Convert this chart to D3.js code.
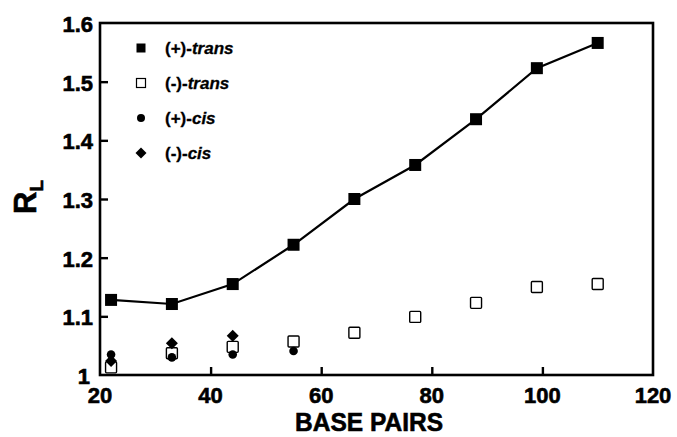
<!DOCTYPE html>
<html>
<head>
<meta charset="utf-8">
<script src="https://cdn.jsdelivr.net/npm/d3@7"></script>
<style>
  html, body { margin: 0; padding: 0; background: #fff; }
  svg { display: block; }
  text { font-family: "Liberation Sans", Arial, sans-serif; font-weight: bold; fill: #000; }
  text.heavy { stroke: #000; stroke-width: 0.6px; }
</style>
</head>
<body>
<svg id="chart" width="677" height="437"></svg>
<script>
// ---- data ----
const basePairs = [22, 33, 44, 55, 66, 77, 88, 99, 110];
const plusTrans  = [1.128, 1.121, 1.155, 1.222, 1.300, 1.358, 1.436, 1.523, 1.566];
const minusTrans = [1.013, 1.037, 1.048, 1.057, 1.072, 1.099, 1.123, 1.150, 1.155];
const cisBasePairs = [22, 33, 44, 55];
const plusCis  = [1.035, 1.030, 1.035, 1.041];
const minusCisBasePairs = [22, 33, 44];
const minusCis = [1.024, 1.054, 1.067];
const xTicks = [20, 40, 60, 80, 100, 120];
const yTicks = [1, 1.1, 1.2, 1.3, 1.4, 1.5, 1.6];
const yTickLabels = ["1", "1.1", "1.2", "1.3", "1.4", "1.5", "1.6"];
const legendLabels = [["(+)-", "trans"], ["(-)-", "trans"], ["(+)-", "cis"], ["(-)-", "cis"]];

// ---- layout ----
const svg = d3.select("#chart");
const L = 100, R = 653, T = 23, B = 375;
const x = d3.scaleLinear().domain([20, 120]).range([L, R]);
const y = d3.scaleLinear().domain([1, 1.6]).range([B, T]);

// frame
svg.append("rect").attr("x", L).attr("y", T).attr("width", R - L).attr("height", B - T)
  .attr("fill", "none").attr("stroke", "#000").attr("stroke-width", 2.6);

// inward ticks via d3 axes
const xAxis = svg.append("g").attr("transform", `translate(0,${B})`)
  .call(d3.axisBottom(x).tickValues(xTicks.slice(1, -1)).tickSize(-8).tickFormat(""));
const yAxis = svg.append("g").attr("transform", `translate(${L},0)`)
  .call(d3.axisLeft(y).tickValues(yTicks.slice(1, -1)).tickSize(-8).tickFormat(""));
[xAxis, yAxis].forEach(g => {
  g.select(".domain").remove();
  g.selectAll(".tick line").attr("stroke", "#000").attr("stroke-width", 2.4);
});

// tick labels
svg.append("g").selectAll("text").data(xTicks).join("text").attr("class", "heavy")
  .attr("x", d => x(d)).attr("y", 403).attr("text-anchor", "middle")
  .attr("font-size", 22).text(d => d);
svg.append("g").selectAll("text").data(yTicks).join("text").attr("class", "heavy")
  .attr("x", (d, i) => i === 0 ? 90 : 93).attr("y", d => y(d) + 9)
  .attr("text-anchor", "end").attr("font-size", 22).text((d, i) => yTickLabels[i]);

// axis titles
svg.append("text").attr("class", "heavy").attr("x", 369).attr("y", 431).attr("text-anchor", "middle")
  .attr("font-size", 26).attr("textLength", 148).attr("lengthAdjust", "spacingAndGlyphs")
  .text("BASE PAIRS");
const yt = svg.append("text").attr("class", "heavy").attr("transform", "translate(36,214) rotate(-90)")
  .attr("font-size", 31);
yt.append("tspan").text("R");
yt.append("tspan").attr("font-size", 19).attr("dy", 7).text("L");

// line for (+)-trans
const line = d3.line().x((d, i) => x(basePairs[i])).y(d => y(d));
svg.append("path").datum(plusTrans).attr("d", line)
  .attr("fill", "none").attr("stroke", "#000").attr("stroke-width", 2.2);

// (-)-trans open squares
const os = 11;
svg.append("g").selectAll("rect").data(minusTrans).join("rect")
  .attr("x", (d, i) => x(basePairs[i]) - os / 2).attr("y", d => y(d) - os / 2)
  .attr("width", os).attr("height", os).attr("rx", 1)
  .attr("fill", "#fff").attr("stroke", "#000").attr("stroke-width", 1.4);

// (-)-cis diamonds
const diamond = (cx, cy, r) => `M${cx},${cy - r}L${cx + r},${cy}L${cx},${cy + r}L${cx - r},${cy}Z`;
svg.append("g").selectAll("path").data(minusCis).join("path")
  .attr("d", (d, i) => diamond(x(minusCisBasePairs[i]), y(d), 6)).attr("fill", "#000");

// (+)-cis circles
svg.append("g").selectAll("circle").data(plusCis).join("circle")
  .attr("cx", (d, i) => x(cisBasePairs[i])).attr("cy", d => y(d)).attr("r", 4.3).attr("fill", "#000");

// (+)-trans filled squares
const fs = 12;
svg.append("g").selectAll("rect").data(plusTrans).join("rect")
  .attr("x", (d, i) => x(basePairs[i]) - fs / 2).attr("y", d => y(d) - fs / 2)
  .attr("width", fs).attr("height", fs).attr("fill", "#000");

// legend
const lx = 141, ly0 = 48, dy = 35;
const lg = svg.append("g");
lg.append("rect").attr("x", lx - 4.5).attr("y", ly0 - 4.5).attr("width", 9).attr("height", 9).attr("fill", "#000");
lg.append("rect").attr("x", lx - 4.5).attr("y", ly0 + dy - 4.5).attr("width", 9).attr("height", 9)
  .attr("fill", "#fff").attr("stroke", "#000").attr("stroke-width", 1.2);
lg.append("circle").attr("cx", lx).attr("cy", ly0 + 2 * dy).attr("r", 4).attr("fill", "#000");
lg.append("path").attr("d", diamond(lx, ly0 + 3 * dy, 5.5)).attr("fill", "#000");
legendLabels.forEach((lab, i) => {
  const t = lg.append("text").attr("class", "heavy").attr("x", 165).attr("y", ly0 + i * dy + 6)
    .attr("font-size", 17).style("stroke-width", "0.3px");
  t.append("tspan").text(lab[0]);
  t.append("tspan").attr("font-style", "italic").text(lab[1]);
});
</script>
</body>
</html>
